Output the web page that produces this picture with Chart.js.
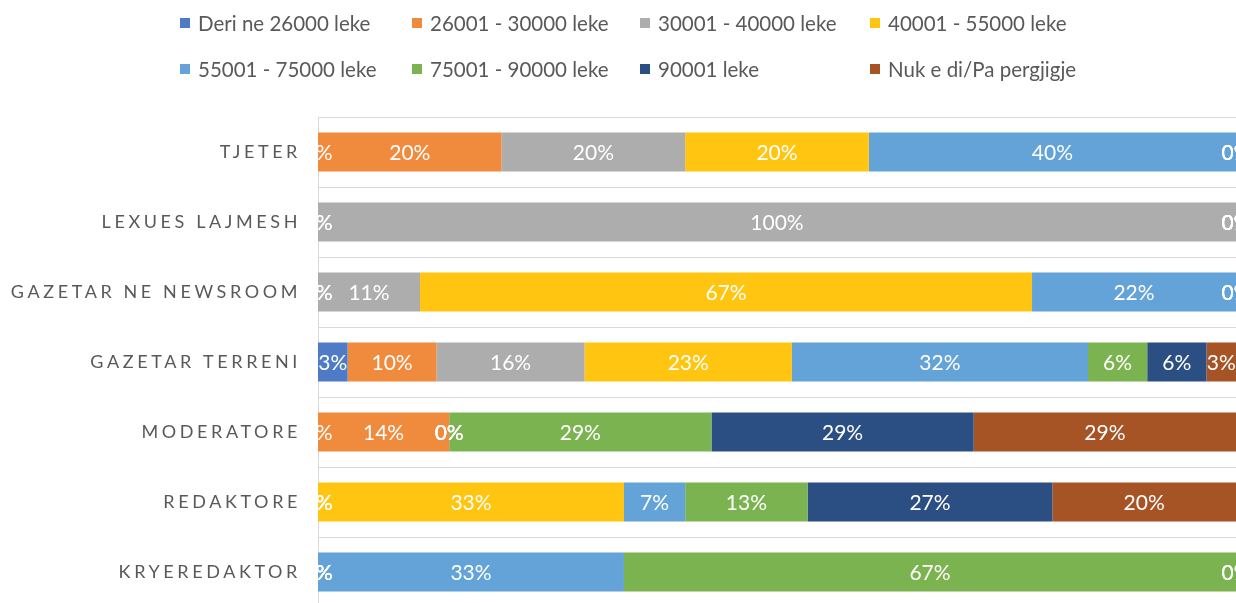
<!DOCTYPE html>
<html>
<head>
<meta charset="utf-8">
<script src="https://cdn.jsdelivr.net/npm/chart.js@4/dist/chart.umd.min.js"></script>
<style>
  html, body { margin: 0; padding: 0; background: #fff; }
  #wrap { position: relative; width: 1236px; height: 603px; overflow: hidden; }
  #legend {
    position: absolute; left: 180px; top: 0;
    display: grid;
    grid-template-columns: 232px 228px 230px 230px;
    grid-auto-rows: 46px;
    font-family: Lato, "Open Sans", sans-serif;
    font-size: 20.5px; color: #595959;
  }
  #legend .item { display: flex; align-items: center; white-space: nowrap; }
  #legend .box { width: 10px; height: 10px; margin-right: 8px; flex: none; }
  #chart { position: absolute; left: 0; top: 0; }
</style>
</head>
<body>
<div id="wrap">
  <canvas id="chart" width="1236" height="620"></canvas>
  <div id="legend"></div>
</div>
<script>
/* Paga sipas pozicionit: shirit horizontal 100% */

const categories = [
  "TJETER",
  "LEXUES LAJMESH",
  "GAZETAR NE NEWSROOM",
  "GAZETAR TERRENI",
  "MODERATORE",
  "REDAKTORE",
  "KRYEREDAKTOR",
];

const seriesNames = [
  "Deri ne 26000 leke",
  "26001 - 30000 leke",
  "30001 - 40000 leke",
  "40001 - 55000 leke",
  "55001 - 75000 leke",
  "75001 - 90000 leke",
  "90001 leke",
  "Nuk e di/Pa pergjigje",
];

const seriesColors = [
  "#4f7bc6",
  "#f08a3c",
  "#adadad",
  "#ffc510",
  "#64a3d8",
  "#7ab350",
  "#2b4f83",
  "#a65325",
];

// perqindje per cdo grup page, ne rendin e kategorive
const deri26000   = [0,     0,   0,     3.23,  0,     0,     0];
const p26_30      = [20,    0,   0,     9.68,  14.29, 0,     0];
const p30_40      = [20,    100, 11.11, 16.13, 0,     0,     0];
const p40_55      = [20,    0,   66.67, 22.58, 0,     33.33, 0];
const p55_75      = [40,    0,   22.22, 32.26, 0,     6.67,  33.33];
const p75_90      = [0,     0,   0,     6.45,  28.57, 13.33, 66.67];
const mbi90001    = [0,     0,   0,     6.45,  28.57, 26.67, 0];
const paPergjigje = [0,     0,   0,     3.22,  28.57, 20,    0];

const seriesValues = [deri26000, p26_30, p30_40, p40_55, p55_75, p75_90, mbi90001, paPergjigje];

const datasets = seriesNames.map((name, i) => ({
  label: name,
  data: seriesValues[i],
  backgroundColor: seriesColors[i],
  borderWidth: 0,
  barPercentage: 0.56,
  categoryPercentage: 1,
}));

// legjenda ne kolona, si ne Excel
const legendEl = document.getElementById("legend");
legendEl.innerHTML = seriesNames
  .map((n, i) => `<div class="item"><span class="box" style="background:${seriesColors[i]}"></span>${n}</div>`)
  .join("");

// hapesire mes shkronjave per emrat e kategorive
const spacedTicks = {
  id: "spacedTicks",
  beforeDraw(chart) { chart.ctx.letterSpacing = "3.6px"; },
  beforeDatasetsDraw(chart) { chart.ctx.letterSpacing = "0px"; },
};

// etiketat e perqindjeve ne mes te cdo segmenti, te prera ne zonen e grafikut
const segmentLabels = {
  id: "segmentLabels",
  afterDatasetsDraw(chart) {
    const { ctx, chartArea: a } = chart;
    ctx.save();
    ctx.letterSpacing = "0px";
    ctx.beginPath();
    ctx.rect(a.left, a.top, a.right - a.left, a.bottom - a.top);
    ctx.clip();
    ctx.font = "21px Lato";
    ctx.fillStyle = "#ffffff";
    ctx.textAlign = "center";
    ctx.textBaseline = "middle";
    chart.data.datasets.forEach((ds, i) => {
      chart.getDatasetMeta(i).data.forEach((bar, j) => {
        const p = bar.getProps(["x", "y", "base"], true);
        ctx.fillText(`${Math.round(ds.data[j])}%`, (p.x + p.base) / 2, p.y + 1);
      });
    });
    ctx.restore();
  },
};

new Chart(document.getElementById("chart"), {
  type: "bar",
  data: { labels: categories, datasets },
  plugins: [spacedTicks, segmentLabels],
  options: {
    indexAxis: "y",
    responsive: false,
    animation: false,
    layout: { padding: { top: 117, bottom: 13, left: 0, right: 0 } },
    plugins: {
      legend: { display: false },
      tooltip: { enabled: false },
    },
    scales: {
      x: { display: false, stacked: true, min: 0, max: 100 },
      y: {
        stacked: true,
        afterFit(scale) {
          scale.width = 318;
          scale.paddingTop = 0;
          scale.paddingBottom = 0;
        },
        grid: { color: "#d9d9d9", drawTicks: false, offset: true },
        border: { color: "#d9d9d9" },
        ticks: {
          color: "#595959",
          padding: 17,
          font: { family: "Lato", size: 18 },
        },
      },
    },
  },
});
</script>
</body>
</html>
